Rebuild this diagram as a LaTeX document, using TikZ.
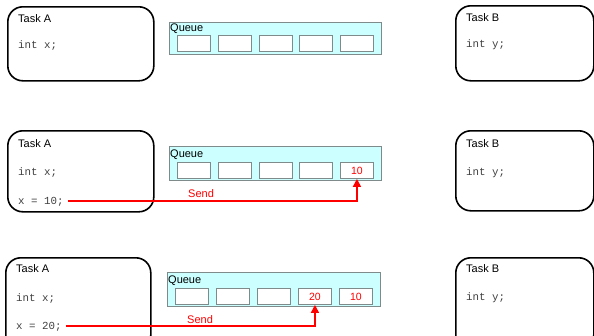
\documentclass[tikz,border=0pt]{standalone}
\usepackage{fontspec}
\setmainfont{Liberation Sans}
\setmonofont{Liberation Mono}
\usetikzlibrary{arrows.meta}
\definecolor{qfill}{HTML}{CCFFFF}
\definecolor{qline}{HTML}{7F8A8A}
\definecolor{sred}{HTML}{FF0000}
\tikzset{
  taskbox/.style={draw=black, line width=1.6pt, rounded corners=15pt, inner sep=0pt, anchor=north west},
  queuebox/.style={draw=qline, fill=qfill, line width=0.9pt, inner sep=0pt, anchor=north west},
  cellbox/.style={draw=qline, fill=white, line width=0.9pt, inner sep=0pt, anchor=north west,
                  minimum width=33pt, minimum height=16pt, font=\fontsize{10.5}{12}\selectfont, text=sred},
  lbl/.style={inner sep=0pt, anchor=base west, font=\fontsize{11}{13}\selectfont},
  codetxt/.style={inner sep=0pt, anchor=base west, font=\ttfamily\fontsize{10.8}{12}\selectfont, text=black!75},
  sendlbl/.style={inner sep=0pt, anchor=base west, font=\fontsize{11}{13}\selectfont, text=sred},
  sendline/.style={draw=sred, color=sred, line width=1.6pt, -{Triangle[length=8pt,width=8pt]}}
}
\begin{document}
\begin{tikzpicture}[x=1pt,y=-1pt]
\useasboundingbox (0,0) rectangle (594,335);

% ---------- Panel 1 ----------
\node[taskbox, minimum width=146pt, minimum height=74pt] (ta1) at (7,6) {};
\node[lbl] (ta1t) at (18,22) {Task A};
\node[codetxt] (ta1c) at (18,48) {int x;};
\node[queuebox, minimum width=212pt, minimum height=32pt] (q1) at (169,21.5) {};
\node[lbl] (q1t) at (170,31) {Queue};
\foreach \i in {1,...,5} \node[cellbox] (q1c\i) at ({177+(\i-1)*40.8},35) {};
\node[taskbox, minimum width=138pt, minimum height=75pt] (tb1) at (455,5) {};
\node[lbl] (tb1t) at (466,21) {Task B};
\node[codetxt] (tb1c) at (466,47) {int y;};

% ---------- Panel 2 ----------
\node[taskbox, minimum width=146pt, minimum height=81pt] (ta2) at (7,130) {};
\node[lbl] (ta2t) at (18,147) {Task A};
\node[codetxt] (ta2c) at (18,175) {int x;};
\node[codetxt] (ta2s) at (18,204) {x = 10;};
\node[queuebox, minimum width=212pt, minimum height=34pt] (q2) at (169,146) {};
\node[lbl] (q2t) at (170,157) {Queue};
\foreach \i in {1,...,4} \node[cellbox] (q2c\i) at ({177+(\i-1)*40.8},162) {};
\node[cellbox] (q2c5) at (340,162) {10};
\node[taskbox, minimum width=138pt, minimum height=80pt] (tb2) at (455,130) {};
\node[lbl] (tb2t) at (466,147) {Task B};
\node[codetxt] (tb2c) at (466,175) {int y;};
\coordinate (s2) at ([xshift=4pt,yshift=3pt]ta2s.base east);
\draw[sendline] (s2) -| (q2c5.south);
\node[sendlbl] (send2) at (188,197) {Send};

% ---------- Panel 3 ----------
\node[taskbox, minimum width=145pt, minimum height=92pt] (ta3) at (5,257) {};
\node[lbl] (ta3t) at (16,272) {Task A};
\node[codetxt] (ta3c) at (16,301) {int x;};
\node[codetxt] (ta3s) at (16,329) {x = 20;};
\node[queuebox, minimum width=213pt, minimum height=34pt] (q3) at (167,272) {};
\node[lbl] (q3t) at (168,283) {Queue};
\foreach \i in {1,...,3} \node[cellbox] (q3c\i) at ({175+(\i-1)*41},288) {};
\node[cellbox] (q3c4) at (298,288) {20};
\node[cellbox] (q3c5) at (339,288) {10};
\node[taskbox, minimum width=138pt, minimum height=92pt] (tb3) at (455,257) {};
\node[lbl] (tb3t) at (466,272) {Task B};
\node[codetxt] (tb3c) at (466,300) {int y;};
\coordinate (s3) at ([xshift=4pt,yshift=3pt]ta3s.base east);
\draw[sendline] (s3) -| (q3c4.south);
\node[sendlbl] (send3) at (187,323) {Send};
\end{tikzpicture}
\end{document}
